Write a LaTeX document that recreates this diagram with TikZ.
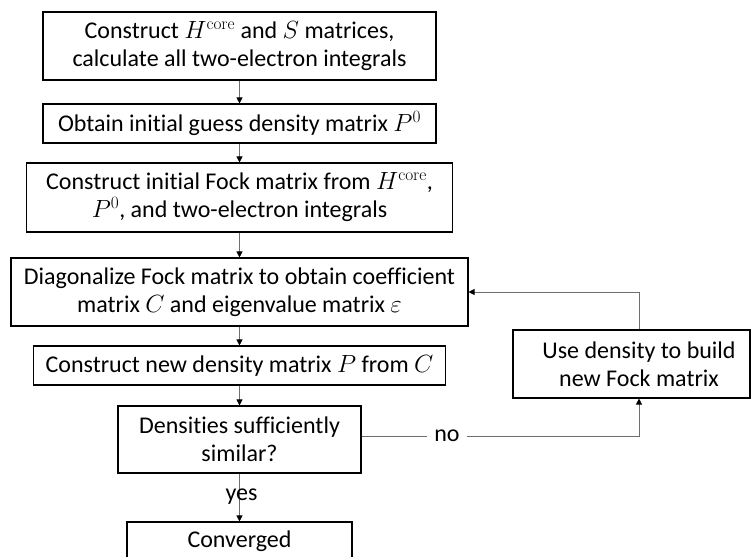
\documentclass[tikz,border=0pt]{standalone}
\usepackage[no-math]{fontspec}
\setmainfont{Carlito}[Ligatures=NoCommon]
\DeclareMathSizes{24}{25}{19}{15}
\usetikzlibrary{arrows.meta}
\definecolor{linkgray}{RGB}{110,110,110}
\begin{document}
\begin{tikzpicture}[x=1pt,y=-1pt,
  txt/.style={font=\fontsize{24}{28}\selectfont, align=center},
  box/.style={txt, draw=black, line width=1.1pt, inner sep=0pt},
  link/.style={draw=linkgray, line width=0.8pt,
    -{Triangle[length=6pt,width=6pt,color=black]}},
  plain/.style={draw=linkgray, line width=0.8pt}]
\useasboundingbox (0,0) rectangle (751,556);

% main column of steps
\node[box, minimum width=393pt, minimum height=68pt] (b1) at (239.5,46)
  {Construct $H^{\mathrm{core}}$ and $S$ matrices,\\calculate all two-electron integrals};
\node[box, minimum width=393pt, minimum height=39pt] (b2) at (239.5,123.5)
  {Obtain initial guess density matrix $P^0$};
\node[box, minimum width=426pt, minimum height=69pt] (b3) at (239.5,197.5)
  {Construct initial Fock matrix from $H^{\mathrm{core}}$,\\$P^0$, and two-electron integrals};
\node[box, minimum width=457pt, minimum height=68pt] (b4) at (239.5,292)
  {Diagonalize Fock matrix to obtain coefficient\\matrix $C$ and eigenvalue matrix $\varepsilon$};
\node[box, minimum width=412pt, minimum height=39pt] (b5) at (239.5,365.5)
  {Construct new density matrix $P$ from $C$};
\node[box, minimum width=243pt, minimum height=67pt] (b6) at (239.5,439.5)
  {Densities sufficiently\\similar?};
\node[box, minimum width=225pt, minimum height=39pt] (b7) at (239.5,541.5)
  {Converged};

% side step of the loop
\node[draw=black, line width=1.1pt, minimum width=237pt, minimum height=68pt] (side) at (631.5,364) {};
\node[txt] (sidetext) at (639,364) {Use density to build\\new Fock matrix};

% connectors down the column
\draw[link] (b1) -- (b2);
\draw[link] (b2) -- (b3);
\draw[link] (b3) -- (b4);
\draw[link] (b4) -- (b5);
\draw[link] (b5) -- (b6);
\draw[link] (b6) -- (b7);
\node[txt, inner sep=0pt] (yes) at (241.5,497) {yes};

% loop back
\node[txt, inner sep=0pt, minimum width=40pt] (no) at (447,436) {no};
\draw[plain] ([yshift=3.5pt]b6.east) -- (no.west);
\draw[link] (no.east) -| (side.south -| sidetext.center);
\draw[link] (side.north -| sidetext.center) |- (b4.east);
\end{tikzpicture}
\end{document}
